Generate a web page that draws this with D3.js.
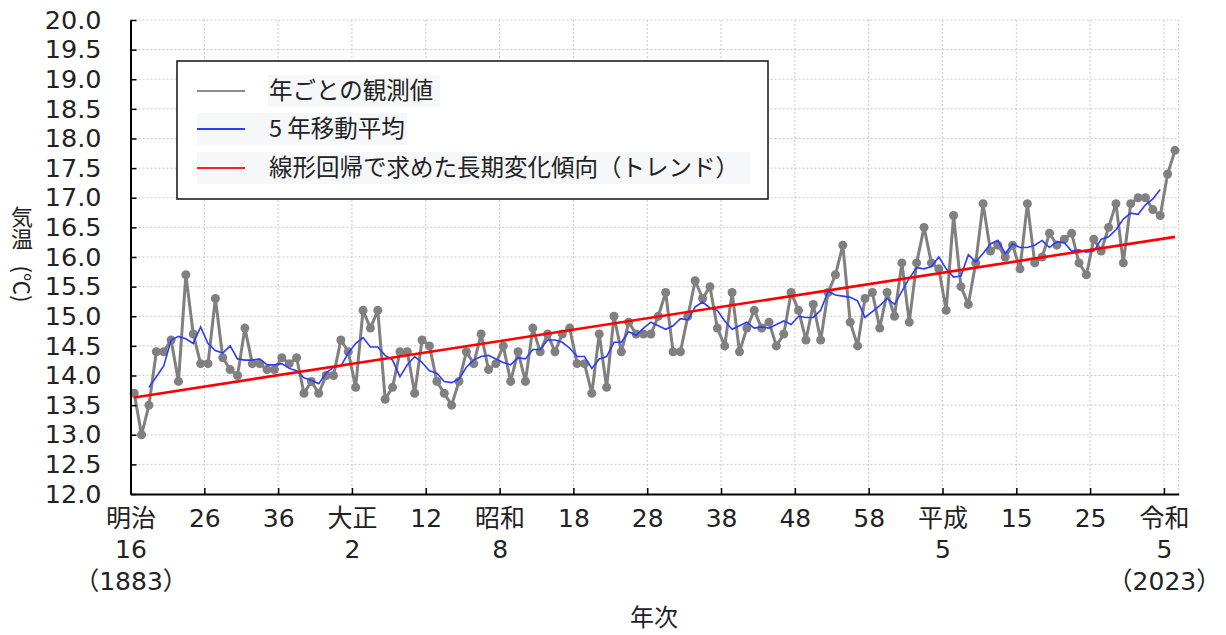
<!DOCTYPE html>
<html>
<head>
<meta charset="utf-8">
<script src="https://cdn.jsdelivr.net/npm/d3@7"></script>
<style>
  body { margin: 0; background: #fff; }
  text { font-family: "Noto Sans CJK JP", "Noto Sans", sans-serif; fill: #222; }
</style>
</head>
<body>
<svg id="chart" width="1226" height="635"></svg>
<script>
// annual mean temperature (deg C), one value a year from 1883
var firstYear = 1883;
var annualTemp = [
  13.7, 13.0, 13.5, 14.4, 14.4, 14.6, 13.9, 15.7, 14.7, 14.2,
  14.2, 15.3, 14.3, 14.1, 14.0, 14.8, 14.2, 14.2, 14.1, 14.1,
  14.3, 14.2, 14.3, 13.7, 13.9, 13.7, 14.0, 14.0, 14.6, 14.4,
  13.8, 15.1, 14.8, 15.1, 13.6, 13.8, 14.4, 14.4, 13.7, 14.6,
  14.5, 13.9, 13.7, 13.5, 13.9, 14.4, 14.2, 14.7, 14.1, 14.2,
  14.5, 13.9, 14.4, 13.9, 14.8, 14.4, 14.7, 14.4, 14.7, 14.8,
  14.2, 14.2, 13.7, 14.7, 13.8, 15.0, 14.4, 14.9, 14.7, 14.7,
  14.7, 15.0, 15.4, 14.4, 14.4, 15.0, 15.6, 15.3, 15.5, 14.8,
  14.5, 15.4, 14.4, 14.8, 15.1, 14.8, 14.9, 14.5, 14.7, 15.4,
  15.1, 14.6, 15.2, 14.6, 15.4, 15.7, 16.2, 14.9, 14.5, 15.3,
  15.4, 14.8, 15.4, 15.0, 15.9, 14.9, 15.9, 16.5, 15.9, 15.8,
  15.1, 16.7, 15.5, 15.2, 15.9, 16.9, 16.1, 16.2, 16.0, 16.2,
  15.8, 16.9, 15.9, 16.0, 16.4, 16.2, 16.3, 16.4, 15.9, 15.7,
  16.3, 16.1, 16.5, 16.9, 15.9, 16.9, 17.0, 17.0, 16.8, 16.7,
  17.4, 17.8
];

// 5 year moving average, centred, from 1885
var maStart = 1885;
var movingAvg = [
  13.80, 13.98, 14.16, 14.60, 14.66, 14.62, 14.54, 14.82, 14.54, 14.42,
  14.38, 14.50, 14.28, 14.26, 14.26, 14.28, 14.18, 14.18, 14.20, 14.12,
  14.08, 13.96, 13.92, 13.86, 14.04, 14.14, 14.16, 14.38, 14.54, 14.64,
  14.48, 14.48, 14.34, 14.26, 13.98, 14.18, 14.32, 14.22, 14.08, 14.04,
  13.90, 13.88, 13.94, 14.14, 14.26, 14.32, 14.34, 14.28, 14.22, 14.18,
  14.30, 14.28, 14.44, 14.44, 14.60, 14.60, 14.56, 14.46, 14.32, 14.32,
  14.12, 14.28, 14.32, 14.56, 14.56, 14.74, 14.68, 14.80, 14.90, 14.84,
  14.78, 14.84, 14.96, 14.94, 15.16, 15.24, 15.14, 15.10, 14.92, 14.78,
  14.84, 14.90, 14.80, 14.82, 14.80, 14.86, 14.92, 14.86, 15.00, 14.98,
  14.98, 15.10, 15.42, 15.36, 15.34, 15.32, 15.26, 14.98, 15.08, 15.18,
  15.30, 15.20, 15.42, 15.64, 15.82, 15.80, 15.84, 16.00, 15.80, 15.66,
  15.68, 16.04, 15.92, 16.06, 16.22, 16.28, 16.06, 16.22, 16.16, 16.16,
  16.20, 16.28, 16.16, 16.26, 16.24, 16.10, 16.12, 16.08, 16.10, 16.30,
  16.34, 16.46, 16.64, 16.74, 16.72, 16.88, 16.98, 17.14
];

// trend line end points
var trendYears = [1883, 2024];
var trendTemp = [13.63, 16.34];

var tickYears = [1883, 1893, 1903, 1913, 1923, 1933, 1943, 1953, 1963, 1973, 1983, 1993, 2003, 2013, 2023];
var tickRow1 = ['明治', '26', '36', '大正', '12', '昭和', '18', '28', '38', '48', '58', '平成', '15', '25', '令和'];
var tickRow2 = ['16', '', '', '2', '', '8', '', '', '', '', '', '5', '', '', '5'];
var tickRow3 = ['（1883）', '', '', '', '', '', '', '', '', '', '', '', '', '', '（2023）'];
var yTicks = [12.0, 12.5, 13.0, 13.5, 14.0, 14.5, 15.0, 15.5, 16.0, 16.5, 17.0, 17.5, 18.0, 18.5, 19.0, 19.5, 20.0];

var legendLabels = ['年ごとの観測値', '5 年移動平均', '線形回帰で求めた長期変化傾向（トレンド）'];
var legendColors = ['#8c8c8c', '#2b3bff', '#ff2020'];

const svg = d3.select('#chart');

var x = d3.scaleLinear().domain([1883, 2025]).range([130.5, 1178.7]);
var y = d3.scaleLinear().domain([12, 20]).range([494, 20]);
// a year's value sits in the middle of its year
var xm = function (yr) { return x(yr + 0.5); };

// grid
var grid = svg.append('g').attr('class', 'grid')
    .style('stroke', '#c9c9c9').style('stroke-width', 1).style('stroke-dasharray', '2,2');
grid.selectAll('.hg').data(yTicks.slice(1)).enter().append('line')
    .attr('x1', x(1883)).attr('x2', x(2025))
    .attr('y1', d => y(d)).attr('y2', d => y(d));
grid.selectAll('.vg').data(tickYears.slice(1).concat([2025])).enter().append('line')
    .attr('x1', d => x(d)).attr('x2', d => x(d))
    .attr('y1', y(12)).attr('y2', y(20));

// observed values
var obs = annualTemp.map((v, i) => [firstYear + i, v]);
var ma = movingAvg.map((v, i) => [maStart + i, v]);

var line = d3.line().x(d => xm(d[0])).y(d => y(d[1]));

svg.append('path').datum(obs)
    .attr('d', line).attr('fill', 'none')
    .attr('stroke', '#808080').attr('stroke-width', 3);
svg.append('g').selectAll('circle').data(obs).enter().append('circle')
    .attr('cx', d => xm(d[0])).attr('cy', d => y(d[1])).attr('r', 4.5)
    .attr('fill', '#808080');

svg.append('path').datum(ma)
    .attr('d', line).attr('fill', 'none')
    .attr('stroke', '#2b3bff').attr('stroke-width', 1.6);

svg.append('path').datum(trendYears.map((t, i) => [t, trendTemp[i]]))
    .attr('d', line).attr('fill', 'none')
    .attr('stroke', '#ff0000').attr('stroke-width', 2.6);

// y axis
var yAxis = svg.append('g').attr('transform', 'translate(' + x(1883) + ',0)')
    .call(d3.axisLeft(y).tickValues(yTicks).tickFormat(d3.format('.1f'))
        .tickSizeInner(-6).tickSizeOuter(0).tickPadding(29));
yAxis.select('.domain').attr('stroke', '#000').attr('stroke-width', 2);
yAxis.selectAll('.tick line').attr('stroke', '#000').attr('stroke-width', 1.5);
yAxis.selectAll('.tick text')
    .style('font-family', '"DejaVu Sans", sans-serif').style('font-size', '25.5px').style('fill', '#222');

// x axis
var xAxis = svg.append('g').attr('transform', 'translate(0,' + y(12) + ')')
    .call(d3.axisBottom(x).tickValues(tickYears).tickFormat('')
        .tickSizeInner(-6).tickSizeOuter(0));
xAxis.select('.domain').attr('stroke', '#000').attr('stroke-width', 2);
xAxis.selectAll('.tick line').attr('stroke', '#000').attr('stroke-width', 1.5);
xAxis.selectAll('.tick text').remove();
xAxis.selectAll('.tick').each(function (d, i) {
    var t = d3.select(this).append('text')
        .attr('text-anchor', 'middle')
        .style('font-family', '"DejaVu Sans", "Noto Sans CJK JP", sans-serif')
        .style('font-size', '25px').style('fill', '#222');
    [tickRow1[i], tickRow2[i], tickRow3[i]].forEach(function (s, k) {
        if (s) t.append('tspan').attr('x', 0).attr('y', [33, 64, 96][k]).text(s);
    });
});

// axis titles
svg.append('text').attr('x', 654).attr('y', 626).attr('text-anchor', 'middle')
    .style('font-size', '24px').text('年次');
svg.append('text').attr('x', 22).attr('y', 206)
    .style('writing-mode', 'vertical-rl').style('text-orientation', 'upright')
    .style('font-size', '22px').text('気温');
svg.append('text').attr('transform', 'translate(14,284) rotate(90)')
    .attr('text-anchor', 'middle').style('font-size', '22px').text('(℃)');

// legend
var lg = svg.append('g');
lg.append('rect').attr('x', 177).attr('y', 61).attr('width', 591).attr('height', 138)
    .attr('fill', '#fff').attr('stroke', '#111').attr('stroke-width', 1.5);
var rowY = [91, 129, 168];
var bgX = [268, 197, 197], bgW = [172, 210, 553];
legendLabels.forEach(function (s, i) {
    lg.append('rect').attr('x', bgX[i]).attr('y', rowY[i] - 16).attr('width', bgW[i]).attr('height', 32)
        .attr('fill', '#f6f7f9');
    lg.append('line').attr('x1', 197).attr('x2', 245).attr('y1', rowY[i]).attr('y2', rowY[i])
        .attr('stroke', legendColors[i]).attr('stroke-width', 2);
    lg.append('text').attr('x', 269).attr('y', rowY[i] + 8)
        .style('font-size', '23.5px').text(s);
});
</script>
</body>
</html>
